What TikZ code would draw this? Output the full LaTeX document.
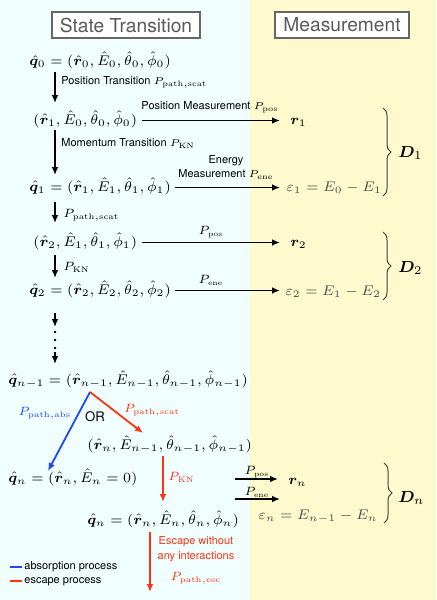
\documentclass[tikz,border=0pt]{standalone}
\usepackage{amsmath,amssymb,bm}
\usepackage{fontspec}
\setsansfont{TeX Gyre Heros}
\usetikzlibrary{arrows.meta,decorations.pathreplacing}
\DeclareMathSizes{6.2}{6.2}{4}{3}
\DeclareMathSizes{5.6}{5.6}{3.6}{3}
\definecolor{bgL}{RGB}{240,255,254}
\definecolor{bgR}{RGB}{255,249,206}
\definecolor{myblue}{RGB}{30,70,255}
\definecolor{myred}{RGB}{255,50,20}
\begin{document}
\begin{tikzpicture}[x=0.5pt,y=-0.5pt,
  math/.style={inner sep=0pt,font=\fontsize{7}{9}\selectfont},
  big/.style={inner sep=0pt,font=\fontsize{8.3}{10}\selectfont},
  plab/.style={inner sep=0pt,font=\fontsize{6.2}{7}\selectfont},
  slab/.style={inner sep=0pt,font=\fontsize{5.6}{6}\selectfont},
  lab/.style={inner sep=0pt,font=\sffamily\fontsize{5.5}{7}\selectfont},
  arr/.style={line width=0.9pt,-{Latex[length=4pt,width=3.4pt]}},
  titlebox/.style={draw=black!60,fill=white,text=black!65,font=\sffamily\fontsize{9.6}{11}\selectfont,line width=0.6pt,minimum width=74pt,minimum height=13pt,inner sep=0pt},
  brc/.style={decorate,decoration={brace,amplitude=4pt},line width=0.5pt,black!75},
  gray/.style={text=black!70}
]
\useasboundingbox (0,0) rectangle (436,600);
\fill[bgL] (0,0) rectangle (250,600);
\fill[bgR] (250,0) rectangle (436,600);

% titles
\node[titlebox] (tS) at (126,25) {State Transition};
\node[titlebox,minimum width=67pt] (tM) at (342,25) {Measurement};

% column coordinates
\coordinate (c1) at (55,0);
\coordinate (c2) at (163,0);
\coordinate (c3) at (150,0);

% state nodes
\node[math,anchor=base west] (q0) at (29,65.5) {$\hat{\bm q}_0=(\hat{\bm r}_0,\hat E_0,\hat\theta_0,\hat\phi_0)$};
\node[math,anchor=base west] (s1) at (33,124) {$(\hat{\bm r}_1,\hat E_0,\hat\theta_0,\hat\phi_0)$};
\node[math,anchor=base west] (q1) at (29,191) {$\hat{\bm q}_1=(\hat{\bm r}_1,\hat E_1,\hat\theta_1,\hat\phi_1)$};
\node[math,anchor=base west] (s2) at (33,246) {$(\hat{\bm r}_2,\hat E_1,\hat\theta_1,\hat\phi_1)$};
\node[math,anchor=base west] (q2) at (29,294) {$\hat{\bm q}_2=(\hat{\bm r}_2,\hat E_2,\hat\theta_2,\hat\phi_2)$};
\node[math,anchor=base west] (qn1) at (8,384) {$\hat{\bm q}_{n-1}=(\hat{\bm r}_{n-1},\hat E_{n-1},\hat\theta_{n-1},\hat\phi_{n-1})$};
\node[math,anchor=base west] (sn) at (87,449) {$(\hat{\bm r}_n,\hat E_{n-1},\hat\theta_{n-1},\hat\phi_{n-1})$};
\node[math,anchor=base west] (qa) at (8,482) {$\hat{\bm q}_n=(\hat{\bm r}_n,\hat E_n=0)$};
\node[math,anchor=base west] (qn) at (87,524) {$\hat{\bm q}_n=(\hat{\bm r}_n,\hat E_n,\hat\theta_n,\hat\phi_n)$};

% measurement nodes
\node[math,anchor=base west] (r1) at (290,124) {$\bm r_1$};
\node[math,anchor=base west] (r2) at (290,246) {$\bm r_2$};
\node[math,anchor=base west] (rn) at (288,484) {$\bm r_n$};
\node[math,gray,anchor=base west] (e1) at (286,191) {$\varepsilon_1=E_0-E_1$};
\node[math,gray,anchor=base west] (e2) at (285,295) {$\varepsilon_2=E_1-E_2$};
\node[math,gray,anchor=base east] (en) at (378,519) {$\varepsilon_n=E_{n-1}-E_n$};
\node[big,anchor=west] (D1) at (398,153) {$\bm D_1$};
\node[big,anchor=west] (D2) at (398,268) {$\bm D_2$};
\node[big,anchor=west] (Dn) at (398,498) {$\bm D_n$};

% vertical state arrows
\draw[arr] (c1 |- 0,72) -- (c1 |- 0,103);
\draw[arr] (c1 |- 0,130) -- (c1 |- 0,175);
\draw[arr] (c1 |- 0,202) -- (c1 |- 0,223);
\draw[arr] (c1 |- 0,255) -- (c1 |- 0,278);
\draw[arr] (c1 |- 0,313) -- (c1 |- 0,327);
\foreach \yy in {332,340,348} \fill (c1 |- 0,\yy) circle[radius=1.3];
\draw[arr] (c1 |- 0,352) -- (c1 |- 0,364);

\node[lab,anchor=west] (l1) at (61,82) {Position Transition $P_{\mathrm{path,scat}}$};
\node[lab,anchor=west] (l2) at (61,143) {Momentum Transition $P_{\mathrm{KN}}$};
\node[plab,anchor=west] (l3) at (63,215) {$P_{\mathrm{path,scat}}$};
\node[plab,anchor=west] (l4) at (63,267) {$P_{\mathrm{KN}}$};

% horizontal measurement arrows
\draw[arr] ([xshift=2.5pt,yshift=1.75pt]s1.base east) -- ([xshift=-5pt,yshift=1.75pt]s1.base east -| r1.west);
\draw[arr] ([xshift=2pt,yshift=1.75pt]q1.base east) -- ([xshift=-3pt,yshift=1.75pt]q1.base east -| e1.west);
\draw[arr] ([xshift=2.5pt,yshift=1.75pt]s2.base east) -- ([xshift=-5pt,yshift=1.75pt]s2.base east -| r2.west);
\draw[arr] ([xshift=2pt,yshift=1.75pt]q2.base east) -- ([xshift=-2.5pt,yshift=1.75pt]q2.base east -| e2.west);

\node[lab,anchor=center] (m1) at (210,107) {Position Measurement $P_{\mathrm{pos}}$};
\node[lab,anchor=center] (m2a) at (226,161) {Energy};
\node[lab,anchor=center] (m2b) at (226,175) {Measurement $P_{\mathrm{ene}}$};
\node[slab,anchor=center] (m3) at (211,232) {$P_{\mathrm{pos}}$};
\node[slab,anchor=center] (m4) at (211,280) {$P_{\mathrm{ene}}$};

% n-th step measurement arrows
\coordinate (pa) at (235,479);
\coordinate (pb) at (235,499);
\coordinate (pbe) at (280,499);
\draw[arr] (pa) -- ([xshift=-5pt]pa -| rn.west);
\draw[arr] (pb) -- (pbe);
\node[slab,anchor=center] (m5) at (257,472) {$P_{\mathrm{pos}}$};
\node[slab,anchor=center] (m6) at (257,492) {$P_{\mathrm{ene}}$};

% braces
\draw[brc] (383,108) -- (383,196);
\draw[brc] (383,232) -- (383,300);
\draw[brc] (384,463) -- (384,523);

% branching
\coordinate (v) at (90,392);
\coordinate (vb) at (48,471);
\coordinate (vr) at (143,433);
\draw[arr,myblue] (v) -- (vb);
\draw[arr,myred] (v) -- (vr);
\node[plab,text=myblue] (la) at (45,413) {$P_{\mathrm{path,abs}}$};
\node[lab,font=\sffamily\fontsize{6.6}{8}\selectfont] (or) at (95,417) {OR};
\node[plab,text=myred] (ls) at (152,410) {$P_{\mathrm{path,scat}}$};

\draw[arr,myred] (c2 |- 0,456) -- (c2 |- 0,502);
\node[plab,text=myred,anchor=west] (lk) at (168,477) {$P_{\mathrm{KN}}$};

\coordinate (esc) at (150,592);
\draw[arr,myred] (c3 |- 0,532) -- (esc);
\node[lab,text=myred] (le1) at (196,542) {Escape without};
\node[lab,text=myred] (le2) at (196,557) {any interactions};
\node[plab,text=myred] (le3) at (196,578) {$P_{\mathrm{path,esc}}$};

% legend
\draw[myblue,line width=0.7pt] (10,567) -- (22,567);
\node[lab,anchor=west] (lg1) at (24,567) {absorption process};
\draw[myred,line width=0.7pt] (10,581) -- (22,581);
\node[lab,anchor=west] (lg2) at (24,582) {escape process};
\end{tikzpicture}
\end{document}
